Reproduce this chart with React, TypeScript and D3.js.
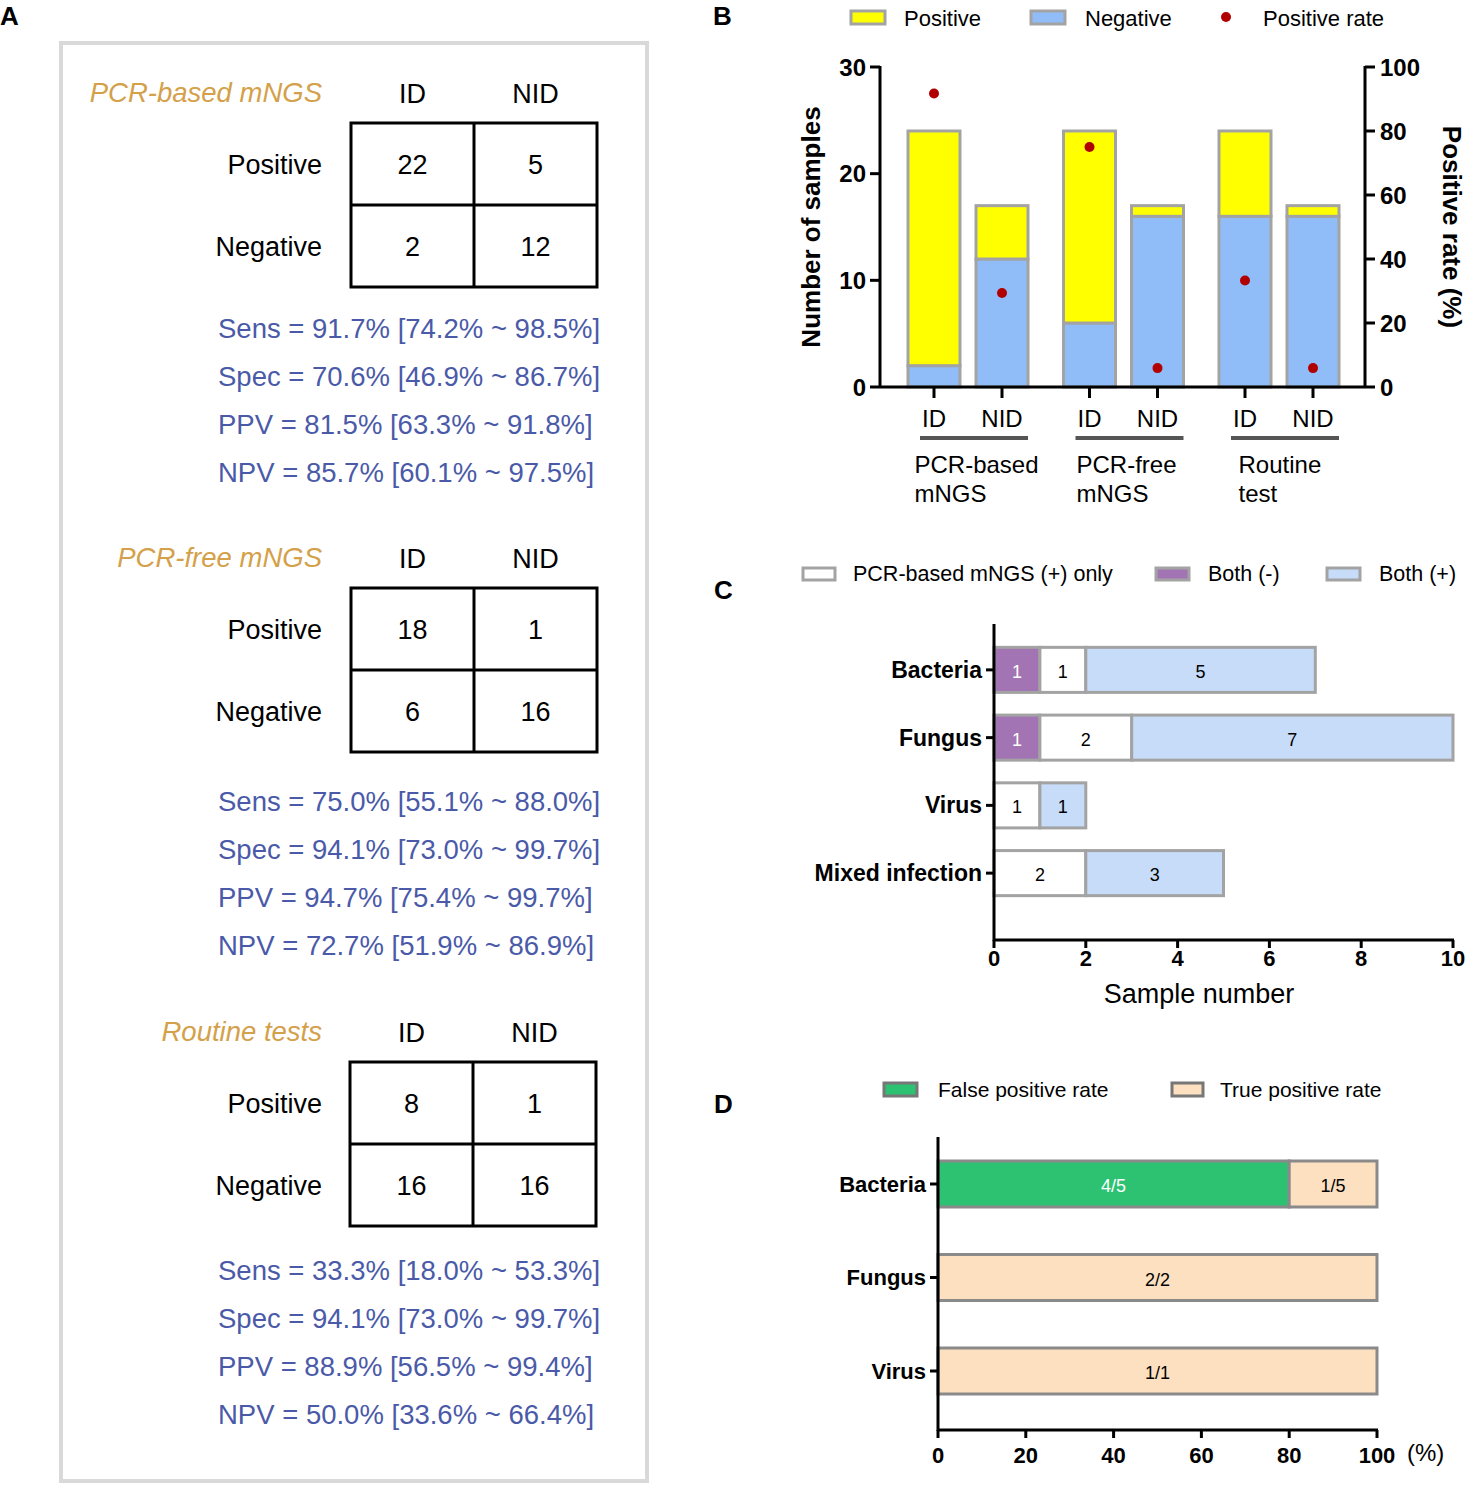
import * as d3 from "d3";

// ---- panel A: diagnostic tables
const methods = ["PCR-based mNGS", "PCR-free mNGS", "Routine tests"];
const colHeads = ["ID", "NID"];
const rowHeads = ["Positive", "Negative"];
const posID = [22, 18, 8];
const posNID = [5, 1, 1];
const negID = [2, 6, 16];
const negNID = [12, 16, 16];
const sens = ["91.7% [74.2% ~ 98.5%]", "75.0% [55.1% ~ 88.0%]", "33.3% [18.0% ~ 53.3%]"];
const spec = ["70.6% [46.9% ~ 86.7%]", "94.1% [73.0% ~ 99.7%]", "94.1% [73.0% ~ 99.7%]"];
const ppv = ["81.5% [63.3% ~ 91.8%]", "94.7% [75.4% ~ 99.7%]", "88.9% [56.5% ~ 99.4%]"];
const npv = ["85.7% [60.1% ~ 97.5%]", "72.7% [51.9% ~ 86.9%]", "50.0% [33.6% ~ 66.4%]"];

// ---- panel B: positives by group
const groups = [["PCR-based", "mNGS"], ["PCR-free", "mNGS"], ["Routine", "test"]];
const subgroups = ["ID", "NID"];
const bPositive = [22, 5, 18, 1, 8, 1];
const bNegative = [2, 12, 6, 16, 16, 16];
const bRate = [91.7, 29.4, 75.0, 5.9, 33.3, 5.9];

// ---- panel C: pathogen detection
const cCats = ["Bacteria", "Fungus", "Virus", "Mixed infection"];
const cBothNeg = [1, 1, 0, 0];
const cPcrOnly = [1, 2, 1, 2];
const cBothPos = [5, 7, 1, 3];

// ---- panel D: false / true positive
const dCats = ["Bacteria", "Fungus", "Virus"];
const dFalse = [4, 0, 0];
const dTrue = [1, 2, 1];

const FONT = "Liberation Sans, Arial, Helvetica, sans-serif";
const GREY = "#a3a3a3";

function PanelA() {
  const tops = [123, 588, 1062];
  const statTops = [328, 801, 1270];
  const col = d3.scaleBand<string>().domain(colHeads).range([0, 246]);
  const row = d3.scaleBand<string>().domain(rowHeads).range([0, 164]);
  const vals = (i: number) => [[posID[i], posNID[i]], [negID[i], negNID[i]]];
  return (
    <g fontFamily={FONT}>
      <rect x={61} y={43} width={586} height={1438} fill="#fff" stroke="#d9d9d9" strokeWidth={4} />
      {methods.map((m, i) => {
        const t = tops[i];
        const left = i === 2 ? 350 : 351;
        const stats = [`Sens = ${sens[i]}`, `Spec = ${spec[i]}`, `PPV = ${ppv[i]}`, `NPV = ${npv[i]}`];
        return (
          <g key={m}>
            <text x={322} y={t - 31} textAnchor="end" dominantBaseline="central" fontSize={27.5} fontStyle="italic" fill="#d4a04a">{m}</text>
            {colHeads.map(c => (
              <text key={c} x={left + col(c)! + col.bandwidth() / 2} y={t - 29} textAnchor="middle" dominantBaseline="central" fontSize={27}>{c}</text>
            ))}
            {rowHeads.map((r, ri) => (
              <g key={r}>
                <text x={322} y={t + row(r)! + row.bandwidth() / 2 + 1} textAnchor="end" dominantBaseline="central" fontSize={27}>{r}</text>
                {colHeads.map((c, ci) => (
                  <text key={c} x={left + col(c)! + col.bandwidth() / 2} y={t + row(r)! + row.bandwidth() / 2 + 1} textAnchor="middle" dominantBaseline="central" fontSize={27}>{vals(i)[ri][ci]}</text>
                ))}
              </g>
            ))}
            <rect x={left} y={t} width={246} height={164} fill="none" stroke="#000" strokeWidth={3} />
            <line x1={left + col("NID")!} x2={left + col("NID")!} y1={t} y2={t + 164} stroke="#000" strokeWidth={3} />
            <line x1={left} x2={left + 246} y1={t + row("Negative")!} y2={t + row("Negative")!} stroke="#000" strokeWidth={3} />
            {stats.map((s, si) => (
              <text key={si} x={218} y={statTops[i] + si * 48} dominantBaseline="central" fontSize={27.5} fill="#4a5aa8">{s}</text>
            ))}
          </g>
        );
      })}
    </g>
  );
}

function PanelB() {
  const y = d3.scaleLinear().domain([0, 30]).range([387, 67]);
  const yr = d3.scaleLinear().domain([0, 100]).range([387, 67]);
  const gx = d3.scalePoint<number>().domain(groups.map((_, i) => i)).range([968, 1279]);
  const sx = d3.scalePoint<string>().domain(subgroups).range([-34, 34]);
  const bars = bPositive.map((p, i) => {
    const g = Math.floor(i / 2);
    const s = subgroups[i % 2];
    return { cx: gx(g)! + sx(s)!, pos: p, neg: bNegative[i], rate: bRate[i], s };
  });
  const bw = 52;
  return (
    <g fontFamily={FONT}>
      {/* legend */}
      <rect x={851} y={11} width={34} height={13} fill="#ffff00" stroke={GREY} strokeWidth={3} />
      <text x={904} y={18} dominantBaseline="central" fontSize={22}>Positive</text>
      <rect x={1031} y={11} width={34} height={13} fill="#90bdf8" stroke={GREY} strokeWidth={3} />
      <text x={1085} y={18} dominantBaseline="central" fontSize={22}>Negative</text>
      <circle cx={1226} cy={17} r={5} fill="#b00000" />
      <text x={1263} y={18} dominantBaseline="central" fontSize={22}>Positive rate</text>

      {bars.map((b, i) => (
        <g key={i}>
          <rect x={b.cx - bw / 2} y={y(b.neg)} width={bw} height={y(0) - y(b.neg)} fill="#90bdf8" stroke={GREY} strokeWidth={3} />
          <rect x={b.cx - bw / 2} y={y(b.neg + b.pos)} width={bw} height={y(b.neg) - y(b.neg + b.pos)} fill="#ffff00" stroke={GREY} strokeWidth={3} />
        </g>
      ))}
      {bars.map((b, i) => (
        <circle key={i} cx={b.cx} cy={yr(b.rate)} r={5} fill="#b00000" />
      ))}

      {/* left axis */}
      <line x1={880} x2={880} y1={66} y2={388} stroke="#000" strokeWidth={3} />
      {y.ticks(3).map(t => (
        <g key={t}>
          <line x1={870} x2={880} y1={y(t)} y2={y(t)} stroke="#000" strokeWidth={3} />
          <text x={866} y={y(t)} textAnchor="end" dominantBaseline="central" fontSize={24} fontWeight="bold">{t}</text>
        </g>
      ))}
      {/* right axis */}
      <line x1={1365} x2={1365} y1={66} y2={388} stroke="#000" strokeWidth={3} />
      {yr.ticks(5).map(t => (
        <g key={t}>
          <line x1={1365} x2={1375} y1={yr(t)} y2={yr(t)} stroke="#000" strokeWidth={3} />
          <text x={1380} y={yr(t)} dominantBaseline="central" fontSize={24} fontWeight="bold">{t}</text>
        </g>
      ))}
      {/* x axis */}
      <line x1={880} x2={1365} y1={387} y2={387} stroke="#000" strokeWidth={3} />
      {bars.map((b, i) => (
        <g key={i}>
          <line x1={b.cx} x2={b.cx} y1={387} y2={398} stroke="#000" strokeWidth={3} />
          <text x={b.cx} y={418} textAnchor="middle" dominantBaseline="central" fontSize={24}>{b.s}</text>
        </g>
      ))}
      {groups.map((lines, g) => {
        const c = gx(g)!;
        const w = d3.max(lines, l => l.length)! * 13;
        return (
          <g key={g}>
            <line x1={c + sx("ID")! - 14} x2={c + sx("NID")! + 26} y1={438} y2={438} stroke="#555" strokeWidth={4} />
            {lines.map((l, li) => (
              <text key={li} x={c + 5 - w / 2} y={464 + li * 29} dominantBaseline="central" fontSize={24}>{l}</text>
            ))}
          </g>
        );
      })}

      <text transform="translate(811,227) rotate(-90)" textAnchor="middle" dominantBaseline="central" fontSize={26} fontWeight="bold">Number of samples</text>
      <text transform="translate(1452,227) rotate(90)" textAnchor="middle" dominantBaseline="central" fontSize={26} fontWeight="bold">Positive rate (%)</text>
    </g>
  );
}

function PanelC() {
  const x = d3.scaleLinear().domain([0, 10]).range([994, 1453]);
  const y = d3.scaleBand<string>().domain(cCats).range([636, 907]).paddingInner(0.335).paddingOuter(0.1675);
  const keys = ["neg", "only", "pos"];
  const fills: Record<string, string> = { neg: "#a374b4", only: "#ffffff", pos: "#c6dcf8" };
  const rows = cCats.map((c, i) => ({ cat: c, neg: cBothNeg[i], only: cPcrOnly[i], pos: cBothPos[i] }));
  const series = d3.stack<any>().keys(keys)(rows);
  return (
    <g fontFamily={FONT}>
      <rect x={803} y={568} width={32} height={12} fill="#fff" stroke={GREY} strokeWidth={3} />
      <text x={853} y={574} dominantBaseline="central" fontSize={21.5}>PCR-based mNGS (+) only</text>
      <rect x={1156} y={568} width={33} height={12} fill="#a374b4" stroke={GREY} strokeWidth={3} />
      <text x={1208} y={574} dominantBaseline="central" fontSize={21.5}>Both (-)</text>
      <rect x={1327} y={568} width={33} height={12} fill="#c6dcf8" stroke={GREY} strokeWidth={3} />
      <text x={1379} y={574} dominantBaseline="central" fontSize={21.5}>Both (+)</text>

      {series.map(s => s.map((d, i) => {
        const v = d[1] - d[0];
        if (v <= 0) return null;
        const yy = y(cCats[i])!;
        return (
          <g key={s.key + i}>
            <rect x={x(d[0])} y={yy} width={x(d[1]) - x(d[0])} height={y.bandwidth()} fill={fills[s.key]} stroke={GREY} strokeWidth={3} />
            <text x={(x(d[0]) + x(d[1])) / 2} y={yy + y.bandwidth() / 2 + 2} textAnchor="middle" dominantBaseline="central" fontSize={18} fill={s.key === "neg" ? "#fff" : "#000"}>{v}</text>
          </g>
        );
      }))}

      <line x1={994} x2={994} y1={624} y2={941} stroke="#000" strokeWidth={3} />
      {cCats.map(c => (
        <g key={c}>
          <line x1={986} x2={994} y1={y(c)! + y.bandwidth() / 2} y2={y(c)! + y.bandwidth() / 2} stroke="#000" strokeWidth={3} />
          <text x={982} y={y(c)! + y.bandwidth() / 2} textAnchor="end" dominantBaseline="central" fontSize={23} fontWeight="bold">{c}</text>
        </g>
      ))}
      <line x1={993} x2={1454} y1={940} y2={940} stroke="#000" strokeWidth={3} />
      {x.ticks(5).map(t => (
        <g key={t}>
          <line x1={x(t)} x2={x(t)} y1={940} y2={948} stroke="#000" strokeWidth={3} />
          <text x={x(t)} y={958} textAnchor="middle" dominantBaseline="central" fontSize={22} fontWeight="bold">{t}</text>
        </g>
      ))}
      <text x={1199} y={994} textAnchor="middle" dominantBaseline="central" fontSize={27}>Sample number</text>
    </g>
  );
}

function PanelD() {
  const x = d3.scaleLinear().domain([0, 100]).range([938, 1377]);
  const y = d3.scaleBand<string>().domain(dCats).range([1137.25, 1417.75]).paddingInner(0.508).paddingOuter(0.254);
  const fills: Record<string, string> = { fp: "#2dc272", tp: "#fde0c0" };
  const rows = dCats.map((c, i) => {
    const tot = dFalse[i] + dTrue[i];
    return { cat: c, fp: (dFalse[i] / tot) * 100, tp: (dTrue[i] / tot) * 100, fpN: dFalse[i], tpN: dTrue[i], tot };
  });
  const series = d3.stack<any>().keys(["fp", "tp"])(rows);
  return (
    <g fontFamily={FONT}>
      <rect x={884} y={1083} width={33} height={13} fill="#2dc272" stroke="#777" strokeWidth={3} />
      <text x={938} y={1089} dominantBaseline="central" fontSize={21}>False positive rate</text>
      <rect x={1172} y={1083} width={31} height={13} fill="#fde0c0" stroke="#777" strokeWidth={3} />
      <text x={1220} y={1089} dominantBaseline="central" fontSize={21}>True positive rate</text>

      {series.map(s => s.map((d, i) => {
        if (d[1] - d[0] <= 0) return null;
        const r = rows[i];
        const yy = y(r.cat)!;
        const n = s.key === "fp" ? r.fpN : r.tpN;
        return (
          <g key={s.key + i}>
            <rect x={x(d[0])} y={yy} width={x(d[1]) - x(d[0])} height={y.bandwidth()} fill={fills[s.key]} stroke="#8a8a8a" strokeWidth={3} />
            <text x={(x(d[0]) + x(d[1])) / 2} y={yy + y.bandwidth() / 2 + 2} textAnchor="middle" dominantBaseline="central" fontSize={18} fill={s.key === "fp" ? "#fff" : "#000"}>{`${n}/${r.tot}`}</text>
          </g>
        );
      }))}

      <line x1={938} x2={938} y1={1137} y2={1431} stroke="#000" strokeWidth={3} />
      {dCats.map(c => (
        <g key={c}>
          <line x1={930} x2={938} y1={y(c)! + y.bandwidth() / 2} y2={y(c)! + y.bandwidth() / 2} stroke="#000" strokeWidth={3} />
          <text x={926} y={y(c)! + y.bandwidth() / 2} textAnchor="end" dominantBaseline="central" fontSize={22} fontWeight="bold">{c}</text>
        </g>
      ))}
      <line x1={937} x2={1378} y1={1430} y2={1430} stroke="#000" strokeWidth={3} />
      {x.ticks(5).map(t => (
        <g key={t}>
          <line x1={x(t)} x2={x(t)} y1={1430} y2={1438} stroke="#000" strokeWidth={3} />
          <text x={x(t)} y={1455} textAnchor="middle" dominantBaseline="central" fontSize={22} fontWeight="bold">{t}</text>
        </g>
      ))}
      <text x={1407} y={1452} dominantBaseline="central" fontSize={24}>(%)</text>
    </g>
  );
}

export default function App() {
  return (
    <svg width={1468} height={1486} style={{ position: "absolute", left: 0, top: 0, background: "#fff" }}>
      <rect width={1468} height={1486} fill="#fff" />
      <g fontFamily={FONT} fontWeight="bold" fontSize={26}>
        <text x={0} y={25}>A</text>
        <text x={713} y={25}>B</text>
        <text x={714} y={599}>C</text>
        <text x={714} y={1113}>D</text>
      </g>
      <PanelA />
      <PanelB />
      <PanelC />
      <PanelD />
    </svg>
  );
}
